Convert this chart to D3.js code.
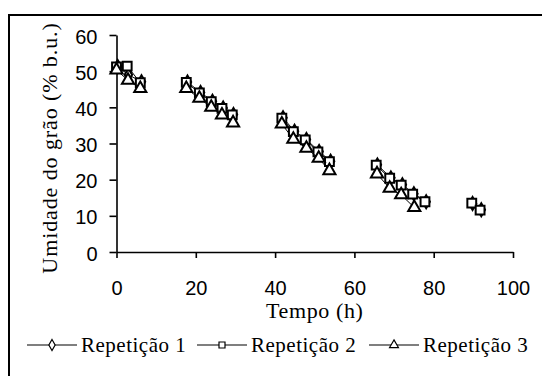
<!DOCTYPE html>
<html>
<head>
<meta charset="utf-8">
<script src="https://cdn.jsdelivr.net/npm/d3@7"></script>
<style>
body { margin: 0; background: #fff; }
svg { display: block; }
text.serif { font-family: 'Liberation Serif', 'DejaVu Serif', 'Noto Serif', Tinos, Times, serif; }
</style>
</head>
<body>
<div id="chart"></div>
<script>
// tempo (h) e umidade (% b.u.) de cada repeticao
var tempo1 = [0.3, 3, 6.3, 17.9, 21.2, 24.2, 26.9, 29.5, 42, 44.9, 47.9, 51.1, 54, 65.8, 69.2, 72.1, 75, 78.1, 89.8, 92];
var umid1  = [51.3, 49, 47.1, 47.0, 44.1, 41.7, 39.8, 38.0, 37.1, 33.4, 31.1, 27.8, 25.1, 24.1, 20.5, 18.6, 16.1, 13.9, 13.4, 11.7];
var tempo2 = [0, 2.7, 6, 17.6, 20.9, 23.9, 26.6, 29.2, 41.7, 44.6, 47.6, 50.8, 53.7, 65.5, 68.9, 71.8, 74.7, 77.8, 89.6, 91.7];
var umid2  = [51.2, 51.4, 46.8, 46.9, 44.0, 41.6, 39.7, 37.9, 37.0, 33.3, 31.0, 27.7, 25.0, 24.0, 20.4, 18.5, 16.0, 13.9, 13.5, 11.6];
var tempo3 = [0, 2.9, 6, 17.6, 20.9, 23.9, 26.6, 29.4, 41.7, 44.6, 47.9, 51, 53.7, 65.7, 68.9, 71.8, 75.1];
var umid3  = [50.3, 47.5, 45.2, 45.2, 42.5, 40.0, 37.9, 35.7, 35.4, 31.2, 28.7, 25.9, 22.5, 21.6, 17.6, 15.8, 12.3];

var xTicks = [0, 20, 40, 60, 80, 100];
var yTicks = [0, 10, 20, 30, 40, 50, 60];
var nomes = ['Repetição 1', 'Repetição 2', 'Repetição 3'];

var width = 542, height = 376;
var sans = '"Liberation Sans", Arial, sans-serif';

var svg = d3.select('#chart')
    .append('svg')
    .attr('width', width)
    .attr('height', height);

// moldura
svg.append('rect')
    .attr('x', 9).attr('y', 15)
    .attr('width', 600).attr('height', 420)
    .style('fill', 'none')
    .style('stroke', '#000')
    .style('stroke-width', 2);

var x = d3.scaleLinear().domain([0, 100]).range([116.5, 513]);
var y = d3.scaleLinear().domain([0, 60]).range([252, 35]);

var xAxis = svg.append('g')
    .attr('transform', 'translate(0,252)')
    .call(d3.axisBottom(x).tickValues(xTicks).tickSize(6).tickPadding(23).tickSizeOuter(0));
var yAxis = svg.append('g')
    .attr('transform', 'translate(116.5,0)')
    .call(d3.axisLeft(y).tickValues(yTicks).tickSize(7).tickPadding(12).tickSizeOuter(0));

[xAxis, yAxis].forEach(function(a) {
    a.attr('font-family', null);
    a.selectAll('path, line').style('stroke', '#000').style('stroke-width', 1.6);
    a.selectAll('text')
        .style('font-family', sans)
        .style('font-size', '20px')
        .style('fill', '#000');
});
yAxis.selectAll('text').attr('dy', '0.4em');

svg.append('text')
    .attr('class', 'serif')
    .attr('x', x(50))
    .attr('y', 318)
    .attr('text-anchor', 'middle')
    .style('font-size', '22px')
    .style('letter-spacing', '0.6px')
    .text('Tempo (h)');

svg.append('text')
    .attr('class', 'serif')
    .attr('transform', 'translate(57,148) rotate(-90)')
    .attr('text-anchor', 'middle')
    .style('font-size', '22px')
    .style('letter-spacing', '0.9px')
    .text('Umidade do grão (% b.u.)');

function pontos(ts, vs) {
    return ts.map(function(t, i) { return {t: t, v: vs[i]}; });
}

// separa em trechos quando ha intervalo grande entre leituras
function trechos(pts) {
    var out = [[]];
    pts.forEach(function(p, i) {
        if (i > 0 && p.t - pts[i - 1].t > 8) out.push([]);
        out[out.length - 1].push(p);
    });
    return out;
}

var series = [
    {pts: pontos(tempo1, umid1), shape: d3.symbolDiamond, size: 48, leg: 34},
    {pts: pontos(tempo2, umid2), shape: d3.symbolSquare, size: 78, leg: 36},
    {pts: pontos(tempo3, umid3), shape: d3.symbolTriangle, size: 64, leg: 34}
];

var line = d3.line()
    .x(function(d) { return x(d.t); })
    .y(function(d) { return y(d.v); });

series.forEach(function(s) {
    var g = svg.append('g');
    g.selectAll('.seg')
        .data(trechos(s.pts))
        .enter().append('path')
        .attr('d', line)
        .style('fill', 'none')
        .style('stroke', '#000')
        .style('stroke-width', 1);
    g.selectAll('.pt')
        .data(s.pts)
        .enter().append('path')
        .attr('transform', function(d) { return 'translate(' + x(d.t) + ',' + y(d.v) + ')'; })
        .attr('d', d3.symbol().type(s.shape).size(s.size))
        .style('fill', '#fff')
        .style('stroke', '#000')
        .style('stroke-width', 2);
});

// legenda
var legX = [27, 197, 369];
var leg = svg.selectAll('.leg')
    .data(series)
    .enter().append('g')
    .attr('transform', function(d, i) { return 'translate(' + legX[i] + ',345)'; });

leg.append('line')
    .attr('x1', 0).attr('x2', 50)
    .style('stroke', '#000')
    .style('stroke-width', 1.2);
leg.append('path')
    .attr('transform', 'translate(25,0)')
    .attr('d', function(d) { return d3.symbol().type(d.shape).size(d.leg)(); })
    .style('fill', '#fff')
    .style('stroke', '#000')
    .style('stroke-width', 1.2);
leg.append('text')
    .attr('class', 'serif')
    .attr('x', 54)
    .attr('y', 7)
    .style('font-size', '21px')
    .style('letter-spacing', '0.5px')
    .text(function(d, i) { return nomes[i]; });
</script>
</body>
</html>
